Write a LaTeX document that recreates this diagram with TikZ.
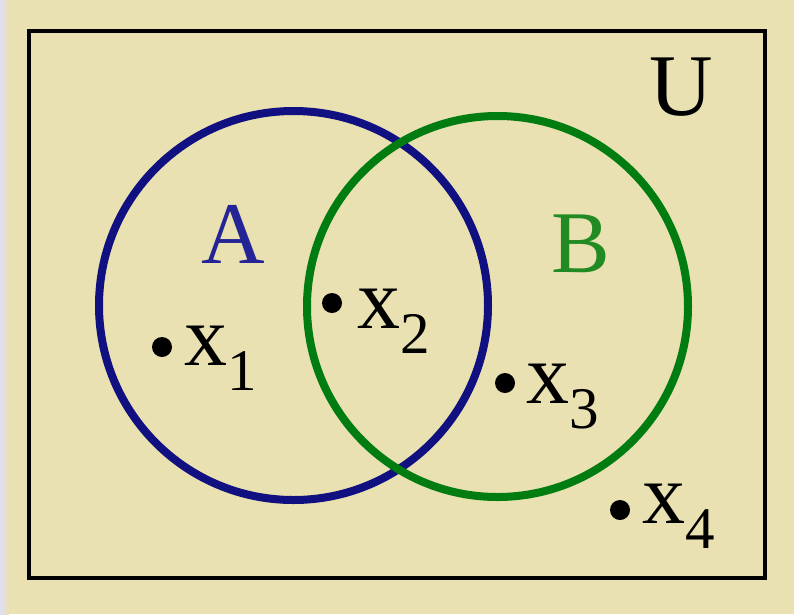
\documentclass[tikz,border=0pt]{standalone}
\usepackage{fontspec}
\setmainfont{Liberation Serif}
\usetikzlibrary{positioning}
\definecolor{paper}{RGB}{233,225,178}
\definecolor{edge}{RGB}{224,224,244}
\definecolor{setblue}{RGB}{16,16,128}
\definecolor{setgreen}{RGB}{0,124,16}
\definecolor{nameblue}{RGB}{36,36,150}
\definecolor{namegreen}{RGB}{34,138,34}
\tikzstyle{setline} = [circle, line width=8pt, inner sep=0pt]
\tikzstyle{element} = [circle, fill=black, inner sep=0pt, minimum size=20pt]
\tikzstyle{elname} = [anchor=base west, inner sep=0pt, font=\fontsize{86}{86}\selectfont]
\tikzstyle{setname} = [anchor=base west, inner sep=0pt, font=\fontsize{88}{88}\selectfont]
\newcommand{\elsub}[1]{\raisebox{-25pt}{\fontsize{59}{59}\selectfont #1}}

\begin{document}
\begin{tikzpicture}[x=1pt,y=-1pt]

\fill[paper] (0,0) rectangle (794,614);
\shade[left color=edge, right color=paper] (0,0) rectangle (9,614);
\useasboundingbox (0,0) rectangle (794,614);

\node (universe) [draw=black, line width=4.5pt, minimum width=736pt, minimum height=547pt, inner sep=0pt] at (397,304.5) {};
\node (setA) [setline, draw=setblue, minimum size=389pt] at (293.5,305.5) {};
\node (setB) [setline, draw=setgreen, minimum size=381pt] at (497.5,306.5) {};

\node (nameU) [setname] at (649,115) {U};
\node (nameA) [setname, text=nameblue] at (201,263) {A};
\node (nameB) [setname, text=namegreen] at (551,272) {B};

\node (p1) [element] at (162,347) {};
\node (p2) [element] at (332,303) {};
\node (p3) [element] at (505,383) {};
\node (p4) [element] at (620,510) {};

\node (x1) [elname] at (184,365) {x\elsub{1}};
\node (x2) [elname] at (357,328) {x\elsub{2}};
\node (x3) [elname] at (526,403) {x\elsub{3}};
\node (x4) [elname] at (642,523) {x\elsub{4}};

\end{tikzpicture}
\end{document}
